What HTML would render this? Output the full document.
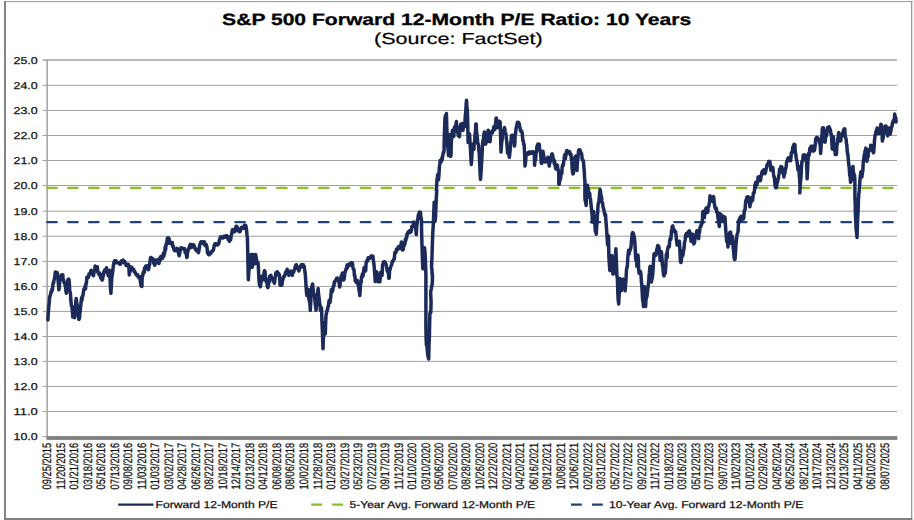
<!DOCTYPE html>
<html><head><meta charset="utf-8"><title>S&amp;P 500 Forward 12-Month P/E Ratio</title>
<style>
html,body{margin:0;padding:0;background:#fff;}
body{width:914px;height:520px;overflow:hidden;position:relative;font-family:"Liberation Sans",sans-serif;}
</style></head><body>
<svg width="914" height="520" viewBox="0 0 914 520" text-rendering="geometricPrecision" style="position:absolute;left:0;top:0;font-family:'Liberation Sans',sans-serif">
<rect x="0" y="0" width="914" height="520" fill="#ffffff"/>
<rect x="4" y="1" width="908.3" height="1.1" fill="#a0a0a0"/>
<rect x="911" y="1" width="1.3" height="519" fill="#9a9a9a"/>
<rect x="4" y="1" width="2" height="519" fill="#848484"/>
<rect x="4" y="518" width="908.3" height="2" fill="#808080"/>
<line x1="42.6" y1="60.00" x2="897.0" y2="60.00" stroke="#a0a0a0" stroke-width="1.7"/>
<text x="37.7" y="64" font-size="10" text-anchor="end" fill="#111" stroke="#111" stroke-width="0.25" textLength="24.2" lengthAdjust="spacingAndGlyphs">25.0</text>
<line x1="42.6" y1="85.30" x2="897.0" y2="85.30" stroke="#a0a0a0" stroke-width="1.0"/>
<text x="37.7" y="89" font-size="10" text-anchor="end" fill="#111" stroke="#111" stroke-width="0.25" textLength="24.2" lengthAdjust="spacingAndGlyphs">24.0</text>
<line x1="42.6" y1="110.50" x2="897.0" y2="110.50" stroke="#a0a0a0" stroke-width="1.0"/>
<text x="37.7" y="114" font-size="10" text-anchor="end" fill="#111" stroke="#111" stroke-width="0.25" textLength="24.2" lengthAdjust="spacingAndGlyphs">23.0</text>
<line x1="42.6" y1="135.50" x2="897.0" y2="135.50" stroke="#a0a0a0" stroke-width="1.0"/>
<text x="37.7" y="139" font-size="10" text-anchor="end" fill="#111" stroke="#111" stroke-width="0.25" textLength="24.2" lengthAdjust="spacingAndGlyphs">22.0</text>
<line x1="42.6" y1="160.50" x2="897.0" y2="160.50" stroke="#a0a0a0" stroke-width="1.0"/>
<text x="37.7" y="164" font-size="10" text-anchor="end" fill="#111" stroke="#111" stroke-width="0.25" textLength="24.2" lengthAdjust="spacingAndGlyphs">21.0</text>
<line x1="42.6" y1="185.50" x2="897.0" y2="185.50" stroke="#a0a0a0" stroke-width="1.0"/>
<text x="37.7" y="189" font-size="10" text-anchor="end" fill="#111" stroke="#111" stroke-width="0.25" textLength="24.2" lengthAdjust="spacingAndGlyphs">20.0</text>
<line x1="42.6" y1="211.20" x2="897.0" y2="211.20" stroke="#a0a0a0" stroke-width="1.0"/>
<text x="37.7" y="215" font-size="10" text-anchor="end" fill="#111" stroke="#111" stroke-width="0.25" textLength="24.2" lengthAdjust="spacingAndGlyphs">19.0</text>
<line x1="42.6" y1="236.20" x2="897.0" y2="236.20" stroke="#a0a0a0" stroke-width="1.0"/>
<text x="37.7" y="240" font-size="10" text-anchor="end" fill="#111" stroke="#111" stroke-width="0.25" textLength="24.2" lengthAdjust="spacingAndGlyphs">18.0</text>
<line x1="42.6" y1="261.40" x2="897.0" y2="261.40" stroke="#a0a0a0" stroke-width="1.0"/>
<text x="37.7" y="265" font-size="10" text-anchor="end" fill="#111" stroke="#111" stroke-width="0.25" textLength="24.2" lengthAdjust="spacingAndGlyphs">17.0</text>
<line x1="42.6" y1="286.40" x2="897.0" y2="286.40" stroke="#a0a0a0" stroke-width="1.0"/>
<text x="37.7" y="290" font-size="10" text-anchor="end" fill="#111" stroke="#111" stroke-width="0.25" textLength="24.2" lengthAdjust="spacingAndGlyphs">16.0</text>
<line x1="42.6" y1="311.40" x2="897.0" y2="311.40" stroke="#a0a0a0" stroke-width="1.0"/>
<text x="37.7" y="315" font-size="10" text-anchor="end" fill="#111" stroke="#111" stroke-width="0.25" textLength="24.2" lengthAdjust="spacingAndGlyphs">15.0</text>
<line x1="42.6" y1="336.50" x2="897.0" y2="336.50" stroke="#a0a0a0" stroke-width="1.0"/>
<text x="37.7" y="340" font-size="10" text-anchor="end" fill="#111" stroke="#111" stroke-width="0.25" textLength="24.2" lengthAdjust="spacingAndGlyphs">14.0</text>
<line x1="42.6" y1="361.40" x2="897.0" y2="361.40" stroke="#a0a0a0" stroke-width="1.0"/>
<text x="37.7" y="365" font-size="10" text-anchor="end" fill="#111" stroke="#111" stroke-width="0.25" textLength="24.2" lengthAdjust="spacingAndGlyphs">13.0</text>
<line x1="42.6" y1="386.40" x2="897.0" y2="386.40" stroke="#a0a0a0" stroke-width="1.0"/>
<text x="37.7" y="390" font-size="10" text-anchor="end" fill="#111" stroke="#111" stroke-width="0.25" textLength="24.2" lengthAdjust="spacingAndGlyphs">12.0</text>
<line x1="42.6" y1="411.50" x2="897.0" y2="411.50" stroke="#a0a0a0" stroke-width="1.0"/>
<text x="37.7" y="415" font-size="10" text-anchor="end" fill="#111" stroke="#111" stroke-width="0.25" textLength="24.2" lengthAdjust="spacingAndGlyphs">11.0</text>
<line x1="42.6" y1="436.60" x2="897.0" y2="436.60" stroke="#a0a0a0" stroke-width="1.0"/>
<text x="37.7" y="440" font-size="10" text-anchor="end" fill="#111" stroke="#111" stroke-width="0.25" textLength="24.2" lengthAdjust="spacingAndGlyphs">10.0</text>
<line x1="47.15" y1="59.2" x2="47.15" y2="438" stroke="#a6a6a6" stroke-width="1.6"/>
<rect x="46.5" y="436.3" width="850.9" height="3.6" fill="#808080"/>
<line x1="47.3" y1="187.85" x2="897.0" y2="187.85" stroke="#84c225" stroke-width="2.4" stroke-dasharray="9.4 11.5" stroke-linecap="round" stroke-dashoffset="0"/>
<line x1="47.3" y1="222.1" x2="897.0" y2="222.1" stroke="#1f447c" stroke-width="2.4" stroke-dasharray="9.4 11.5" stroke-linecap="round" stroke-dashoffset="0"/>
<polyline points="47.9,319.9 48.3,312.5 48.8,306.3 49.2,303.0 49.6,297.5 50.1,295.7 50.5,294.2 50.9,292.1 51.4,292.3 51.8,289.6 52.3,290.3 52.7,286.6 53.1,283.5 53.1,282.8 53.6,283.0 54.0,280.3 54.4,279.1 54.8,277.2 55.3,272.1 55.7,275.6 56.1,272.3 56.5,274.7 56.8,276.0 57.2,272.5 57.5,277.5 57.9,277.3 58.2,281.9 58.6,285.8 58.9,289.8 59.3,286.3 59.7,281.5 60.1,277.5 60.6,277.7 61.0,275.2 61.4,276.9 61.9,276.6 62.3,274.7 62.8,274.9 63.2,280.3 63.6,280.0 64.1,283.0 64.5,282.8 64.9,284.1 65.4,286.5 65.8,289.9 66.3,293.3 66.6,290.0 67.0,288.5 67.3,284.6 67.7,281.0 68.1,279.4 68.5,279.1 68.9,279.3 69.3,282.5 69.7,290.6 70.1,292.3 70.5,294.0 70.8,299.8 71.2,303.7 71.5,306.3 71.9,306.1 72.4,311.6 72.8,317.0 73.3,316.8 73.7,316.6 74.1,316.6 74.5,317.6 74.9,312.6 75.4,308.0 75.8,301.4 76.2,298.4 76.6,302.1 76.9,303.5 77.3,306.3 77.7,306.3 78.1,314.6 78.5,317.6 78.9,319.4 79.2,319.1 79.6,317.7 79.9,313.0 80.3,309.8 80.7,306.1 81.1,301.9 81.6,297.5 82.0,300.2 82.5,295.9 82.9,295.8 83.3,293.0 83.8,289.5 84.2,288.6 84.6,288.8 85.1,286.3 85.5,289.0 86.0,283.3 86.4,283.5 86.8,277.3 87.3,277.5 87.7,277.5 88.1,277.7 88.6,277.0 89.0,273.8 89.5,273.8 89.9,274.0 90.3,273.8 90.8,270.9 91.2,270.3 91.6,270.5 92.1,273.1 92.5,274.5 93.0,274.6 93.4,275.8 93.8,273.6 94.3,271.4 94.7,270.2 95.1,266.1 95.6,267.0 96.0,267.1 96.5,267.2 96.9,267.0 97.3,266.8 97.8,272.1 98.2,273.1 98.6,273.1 99.1,274.6 99.5,272.9 100.0,274.1 100.4,275.8 100.8,278.1 101.3,275.6 101.7,278.8 102.1,280.1 102.6,279.3 103.0,274.0 103.5,275.7 103.9,271.4 104.3,271.6 104.8,269.9 105.2,270.4 105.6,270.5 106.1,268.7 106.5,267.9 107.0,272.4 107.4,270.4 107.8,272.9 108.3,275.8 108.6,276.0 109.0,273.2 109.3,270.3 109.7,270.5 110.1,280.2 110.5,288.9 110.9,293.3 111.3,286.5 111.7,278.6 112.1,275.8 112.6,272.2 113.0,268.9 113.4,265.3 113.9,262.6 114.3,262.8 114.6,260.7 115.0,262.8 115.4,260.7 115.8,260.7 116.1,260.9 116.6,262.3 117.0,262.8 117.5,262.8 117.9,262.7 118.3,262.6 118.8,262.6 119.1,263.1 119.5,263.8 119.8,263.9 120.2,264.4 120.6,263.4 121.0,262.3 121.4,260.9 121.8,260.7 122.3,260.9 122.7,260.6 123.2,260.0 123.6,262.8 124.0,261.9 124.5,261.3 124.9,262.6 125.3,262.7 125.8,263.9 126.2,265.5 126.7,265.3 127.1,264.5 127.5,265.5 128.0,265.5 128.4,264.4 128.8,266.2 129.3,274.9 129.7,271.4 130.2,271.3 130.6,269.5 131.0,267.0 131.5,267.7 131.9,267.4 132.3,269.0 132.8,268.8 133.2,269.8 133.7,269.4 134.1,271.6 134.5,271.4 135.0,272.7 135.4,272.5 135.8,273.9 136.3,274.9 136.7,274.9 137.2,275.6 137.6,274.7 138.0,276.6 138.5,276.4 138.9,277.7 139.3,276.4 139.8,277.5 140.2,279.6 140.7,283.8 141.1,285.8 141.5,286.3 141.9,286.5 142.2,276.4 142.6,276.3 142.9,274.0 143.4,272.0 143.8,272.9 144.2,272.7 144.6,267.7 145.0,267.9 145.5,268.1 145.9,265.9 146.3,268.1 146.8,266.1 147.2,265.9 147.7,268.2 148.1,269.8 148.5,269.6 149.0,267.0 149.4,265.0 149.8,263.4 150.2,260.0 150.6,257.4 151.0,257.6 151.4,259.3 151.8,259.3 152.2,258.2 152.5,259.3 152.9,259.1 153.3,259.1 153.8,263.4 154.2,263.4 154.7,265.3 155.1,264.1 155.5,263.3 156.0,261.5 156.4,260.0 156.8,261.2 157.3,259.8 157.7,260.3 158.2,262.9 158.6,262.0 159.0,263.5 159.5,260.4 159.9,258.0 160.4,260.0 160.8,256.5 161.2,258.5 161.7,258.5 162.1,256.3 162.5,258.3 163.0,256.9 163.4,253.1 163.9,256.0 164.3,253.0 164.7,253.2 165.2,246.7 165.6,249.9 166.0,244.3 166.5,244.5 166.9,241.8 167.4,237.9 167.8,243.3 168.2,238.9 168.7,238.1 169.1,238.9 169.5,242.3 169.9,243.4 170.3,243.6 170.6,243.6 171.0,242.3 171.4,243.6 171.8,243.6 172.2,242.5 172.6,246.2 173.0,245.8 173.5,246.8 173.9,249.5 174.4,250.6 174.8,250.1 175.2,250.3 175.7,250.4 176.1,250.6 176.5,249.1 177.0,248.4 177.4,248.6 177.9,250.0 178.3,250.5 178.7,254.6 179.2,255.6 179.6,253.9 180.0,251.2 180.5,249.7 180.9,247.8 181.4,248.7 181.8,248.1 182.2,248.8 182.7,248.1 183.1,248.8 183.5,248.8 184.0,248.8 184.4,248.6 184.8,249.1 185.2,252.8 185.6,250.3 185.9,252.9 186.3,253.1 186.7,257.4 187.1,257.0 187.6,251.7 188.0,251.5 188.4,249.5 188.9,248.2 189.3,247.4 189.7,245.5 190.1,245.6 190.5,244.3 190.3,247.6 190.0,247.4 190.4,247.0 190.9,247.3 191.3,247.5 191.8,245.3 192.2,244.6 192.6,244.8 193.1,244.8 193.5,247.0 193.9,244.9 194.4,246.5 194.8,248.5 195.3,248.3 195.6,249.7 196.0,249.4 196.4,250.8 196.8,250.6 197.2,249.6 197.6,249.7 198.0,251.4 198.4,252.6 198.8,251.5 199.3,247.6 199.7,245.0 200.2,243.9 200.6,242.6 201.0,241.9 201.4,242.7 201.8,241.9 202.3,242.1 202.7,243.1 203.1,241.9 203.6,243.9 204.0,243.0 204.4,241.9 204.9,244.8 205.3,245.8 205.8,244.8 206.2,244.6 206.6,245.6 207.1,248.0 207.5,252.6 207.9,253.4 208.2,253.0 208.6,254.6 208.9,254.4 209.3,254.6 209.7,254.0 210.2,253.2 210.6,253.7 211.0,251.8 211.4,252.0 211.9,251.8 212.3,250.7 212.8,250.9 213.2,250.4 213.6,249.3 214.1,245.9 214.5,244.8 214.9,243.8 215.4,245.0 215.8,243.7 216.3,243.9 216.7,244.8 217.1,245.0 217.6,243.7 218.0,244.8 218.4,244.0 218.8,243.8 219.3,240.4 219.7,239.7 220.1,237.8 220.5,238.0 220.8,236.7 221.2,237.0 221.5,236.9 221.9,237.4 222.4,238.0 222.8,237.5 223.3,237.8 223.7,237.2 224.1,236.3 224.6,236.2 225.0,236.0 225.4,237.1 225.9,236.4 226.3,235.8 226.8,235.8 227.2,237.1 227.6,236.9 228.1,239.4 228.5,239.9 228.9,236.9 229.4,241.3 229.8,240.8 230.3,239.3 230.7,239.6 231.1,236.0 231.5,234.7 232.0,231.8 232.4,229.9 232.7,231.2 233.1,229.7 233.4,231.8 233.8,231.6 234.1,231.5 234.5,229.2 234.8,231.8 235.2,229.0 235.6,229.2 236.0,226.2 236.5,226.3 236.9,226.4 237.3,228.0 237.7,229.4 238.1,230.8 238.6,230.7 239.0,230.6 239.5,231.8 239.9,231.6 240.3,231.2 240.8,228.6 241.2,227.4 241.6,227.3 242.1,228.3 242.5,228.3 243.0,228.3 243.4,228.1 243.8,228.3 244.3,225.3 244.7,226.7 245.1,225.5 245.6,225.3 246.0,226.2 246.4,229.0 246.7,231.8 247.1,236.0 247.4,237.8 247.8,255.3 248.0,265.9 248.3,279.8 248.7,273.7 249.1,269.1 249.5,262.3 250.0,261.1 250.4,259.7 250.8,256.8 251.3,254.4 251.7,260.2 252.1,267.5 252.6,264.9 253.0,258.9 253.4,254.4 253.7,255.8 254.1,259.4 254.4,264.0 254.8,260.8 255.2,257.4 255.6,254.4 256.1,257.4 256.5,259.6 256.9,262.3 257.2,263.5 257.6,263.7 257.9,262.1 258.3,265.8 258.7,274.6 259.1,281.5 259.6,285.6 260.0,286.0 260.4,286.8 260.7,283.7 261.1,282.5 261.4,276.8 261.8,276.3 262.1,276.1 262.5,278.2 262.8,276.8 263.2,279.8 263.6,279.2 264.0,273.0 264.4,270.8 264.7,271.0 265.1,271.7 265.4,279.2 265.8,278.2 266.1,281.5 266.6,281.3 267.0,283.2 267.5,287.1 267.9,287.6 268.3,285.7 268.8,282.3 269.2,281.8 269.6,276.3 270.1,276.5 270.5,275.6 270.9,275.4 271.3,277.1 271.8,278.2 272.2,278.2 272.6,278.0 273.1,281.1 273.5,278.8 273.9,281.7 274.4,283.3 274.7,281.7 275.1,277.6 275.4,276.9 275.8,272.8 276.2,273.0 276.7,273.0 277.1,271.8 277.5,271.9 278.0,274.7 278.4,274.7 278.8,273.6 279.3,274.5 279.7,278.2 280.1,285.2 280.5,285.0 280.9,284.8 281.2,285.2 281.6,285.2 281.9,285.0 282.3,282.8 282.8,278.6 283.2,278.8 283.7,276.3 284.1,276.0 284.5,276.5 285.0,275.0 285.4,272.8 285.8,271.9 286.3,272.5 286.7,271.1 287.2,269.3 287.6,271.0 288.0,272.4 288.5,273.7 288.9,275.4 289.3,274.8 289.8,272.5 290.2,271.7 290.7,271.0 291.1,272.1 291.5,271.5 292.0,273.8 292.4,275.4 292.8,271.8 293.3,272.0 293.7,272.1 294.2,270.1 294.6,269.5 295.0,267.5 295.5,265.9 295.9,264.9 296.3,264.7 296.8,267.7 297.2,267.5 297.7,267.5 298.1,269.4 298.5,269.3 298.9,271.0 299.3,269.5 299.8,266.8 300.2,267.7 300.6,265.8 301.0,266.0 301.3,264.7 301.7,265.0 302.0,264.9 302.5,266.7 302.9,264.7 303.3,264.7 303.8,266.6 304.2,266.4 304.6,269.2 305.0,272.6 305.4,275.2 305.9,284.0 306.3,289.8 306.8,295.4 307.1,294.4 307.5,293.7 307.8,292.3 308.2,289.3 308.6,296.4 309.0,299.4 309.4,300.6 309.8,302.6 310.3,310.3 310.7,302.7 311.1,295.1 311.5,291.0 311.8,286.3 312.2,286.2 312.5,284.0 312.9,287.5 313.4,292.1 313.8,294.5 314.2,294.3 314.6,296.5 315.0,301.5 315.3,304.4 315.7,306.9 316.0,310.3 316.4,306.4 316.9,303.7 317.3,300.6 317.7,292.8 318.1,288.4 318.5,294.0 319.0,297.3 319.4,300.6 319.7,303.7 320.1,305.6 320.4,310.3 320.9,308.6 321.3,307.6 321.6,309.1 322.0,322.5 322.3,329.1 322.7,340.1 323.0,348.8 323.5,336.7 323.9,331.3 324.4,327.3 324.8,322.5 325.1,328.5 325.3,333.9 325.7,321.7 326.0,315.5 326.5,313.0 326.9,310.9 327.3,310.6 327.8,307.6 328.2,307.2 328.6,304.1 329.1,300.5 329.5,300.6 329.8,301.3 330.0,302.6 330.4,299.2 330.7,297.7 331.1,293.4 331.4,289.5 331.8,289.3 332.2,289.3 332.6,291.3 333.0,288.7 333.4,286.1 333.9,286.0 334.2,282.3 334.6,283.1 334.9,281.0 335.3,280.8 335.7,280.3 336.1,280.2 336.6,278.2 337.0,278.1 337.4,280.1 337.9,278.4 338.3,280.1 338.8,279.9 339.2,283.6 339.6,286.9 340.0,286.1 340.4,278.8 340.9,279.0 341.2,275.9 341.6,276.5 341.9,275.7 342.3,272.9 342.6,279.8 343.0,277.1 343.3,280.1 343.7,279.9 344.1,279.0 344.5,276.7 344.9,272.0 345.3,271.8 345.8,269.5 346.2,269.6 346.6,267.6 347.1,265.0 347.5,267.8 347.9,264.8 348.4,265.0 348.8,265.2 349.1,265.2 349.5,263.9 349.9,264.1 350.3,265.2 350.7,263.6 351.1,263.5 351.5,262.7 352.0,263.6 352.4,262.9 352.8,266.3 353.2,268.8 353.6,269.4 354.0,269.7 354.4,275.7 354.9,275.5 355.2,280.9 355.6,279.1 355.9,281.4 356.3,282.5 356.6,281.1 357.0,282.7 357.3,280.6 357.7,280.8 358.1,285.2 358.5,285.5 358.9,289.5 359.3,291.1 359.8,295.6 360.2,290.7 360.6,282.5 361.1,282.7 361.5,277.3 361.9,276.4 362.4,274.0 362.8,276.4 363.3,273.8 363.7,270.6 364.1,267.6 364.5,269.5 365.0,271.3 365.4,271.1 365.7,270.4 366.1,263.6 366.4,261.5 366.8,261.7 367.3,260.1 367.7,261.1 368.1,257.8 368.5,258.0 368.9,257.8 369.4,257.5 369.8,258.2 370.2,258.2 370.6,257.7 371.0,256.1 371.4,256.1 371.8,256.1 372.1,257.9 372.5,256.1 372.9,256.3 373.3,259.6 373.8,263.3 374.2,266.9 374.6,272.0 374.9,276.6 375.2,281.6 375.6,276.8 376.0,276.9 376.5,271.8 376.9,272.0 377.3,275.1 377.7,279.1 378.1,281.6 378.6,281.8 379.0,281.4 379.5,281.4 379.9,281.6 380.3,277.2 380.8,272.0 381.2,272.1 381.6,275.7 382.0,275.5 382.3,271.9 382.5,265.0 383.0,264.0 383.4,262.4 383.8,261.7 384.3,261.9 384.7,261.7 385.1,262.2 385.6,264.2 386.0,264.1 386.5,266.8 386.9,268.7 387.3,271.3 387.8,271.1 388.1,271.4 388.5,274.7 388.8,278.3 389.2,278.1 389.6,270.7 390.0,270.0 390.4,267.6 390.8,266.7 391.3,265.4 391.7,264.6 392.1,262.4 392.6,261.0 393.0,261.4 393.5,259.9 393.9,258.9 394.3,259.0 394.8,252.6 395.2,252.6 395.6,252.8 396.1,251.9 396.5,249.1 397.0,249.1 397.4,249.3 397.8,249.5 398.3,246.7 398.7,248.5 399.1,246.6 399.6,248.1 400.0,248.2 400.4,248.4 400.7,247.1 401.1,243.9 401.4,241.9 401.8,242.7 402.2,247.3 402.6,250.1 403.1,249.7 403.5,246.5 404.0,246.0 404.4,244.9 404.8,244.7 405.3,239.5 405.7,241.0 406.1,237.9 406.6,238.1 407.0,234.0 407.5,234.3 407.9,232.6 408.3,231.9 408.8,232.8 409.2,232.0 409.6,230.9 410.1,232.3 410.5,230.7 410.9,232.1 411.2,230.7 411.6,229.2 411.9,226.2 412.3,226.4 412.7,226.6 413.2,226.3 413.6,222.0 414.0,222.2 414.4,224.0 414.7,222.7 415.1,224.0 415.4,223.8 415.9,230.0 416.3,234.6 416.7,226.3 417.1,224.0 417.5,219.4 417.9,219.6 418.2,215.7 418.6,214.3 418.9,214.5 419.3,212.2 419.7,212.2 420.1,213.7 420.5,212.4 420.9,218.7 421.4,218.5 421.6,231.5 421.9,242.5 422.3,256.2 422.8,268.8 423.2,263.2 423.7,247.8 424.1,247.6 424.5,247.8 425.0,252.4 425.4,260.0 425.7,268.2 425.9,274.0 425.9,327.5 426.1,337.5 426.4,345.0 426.8,345.7 427.2,348.3 427.6,353.8 428.0,356.2 428.3,357.8 428.7,359.0 429.0,344.8 429.4,336.3 429.6,324.4 429.9,313.5 430.3,312.4 430.8,312.6 431.1,301.3 430.9,297.9 430.6,292.5 430.9,290.5 431.3,288.8 431.6,286.5 432.0,285.5 432.3,282.6 432.5,275.0 432.2,275.2 431.9,268.9 431.5,267.0 432.0,256.6 432.4,242.5 432.8,232.1 433.3,225.0 433.7,213.8 434.2,202.3 434.6,213.5 435.0,221.5 435.5,217.8 435.9,207.5 436.3,197.9 436.8,190.0 436.5,190.0 436.3,190.3 436.6,186.8 437.0,179.1 437.3,178.5 437.7,174.5 438.1,175.6 438.5,179.8 438.9,175.3 439.4,166.8 439.8,164.0 440.2,160.3 440.6,162.3 441.1,162.0 441.5,160.5 441.9,158.0 442.2,159.8 442.6,156.0 442.9,155.3 443.3,152.2 443.7,152.8 444.1,150.0 444.1,144.3 444.6,127.7 445.0,118.0 445.4,115.4 445.7,115.8 446.1,116.6 446.4,113.6 446.8,126.8 447.3,140.8 447.7,146.4 448.1,149.2 448.5,155.6 448.9,145.8 449.4,134.6 449.8,145.6 450.2,147.7 450.6,156.5 451.0,155.3 451.3,142.3 451.7,137.3 452.1,133.8 452.5,130.3 452.9,132.7 453.4,136.6 453.8,136.4 454.1,131.3 454.5,127.0 454.8,130.5 455.2,126.8 455.6,126.8 456.0,124.6 456.4,121.5 456.8,129.6 457.2,128.9 457.6,132.0 458.0,133.5 458.3,135.7 458.7,135.9 459.0,136.4 459.5,136.6 459.9,127.5 460.3,126.4 460.8,124.1 461.1,123.9 461.5,129.0 461.8,127.9 462.2,130.3 462.6,130.0 463.0,130.3 463.4,123.3 463.8,124.4 464.2,125.0 464.6,126.8 465.0,121.0 465.3,115.6 465.7,112.8 466.1,105.1 466.5,100.2 467.0,107.0 467.4,111.0 467.8,126.8 468.1,142.5 468.5,140.5 468.8,137.8 469.2,138.0 469.5,133.8 470.0,141.9 470.4,147.8 470.8,155.8 471.3,164.4 471.6,160.8 472.0,154.0 472.3,146.8 472.7,144.3 473.1,149.2 473.5,148.8 473.9,149.5 474.3,142.2 474.7,141.4 475.1,133.8 475.5,131.3 475.8,123.9 476.2,124.1 476.6,132.6 477.0,134.8 477.4,139.0 477.8,143.3 478.2,144.1 478.6,146.0 479.0,151.5 479.3,154.3 479.7,163.5 480.1,173.5 480.5,179.3 481.0,172.9 481.4,165.8 481.8,160.0 482.2,152.0 482.6,142.5 483.1,140.1 483.5,138.8 484.0,133.8 484.4,132.0 484.8,136.0 485.2,135.5 485.6,144.3 486.0,141.6 486.3,142.3 486.7,142.0 487.0,137.3 487.4,134.4 487.8,132.4 488.2,130.3 488.6,136.2 488.9,135.3 489.3,140.2 489.6,141.6 490.1,141.7 490.5,135.3 490.9,132.0 491.2,133.1 491.6,131.8 491.9,133.1 492.3,132.9 492.6,131.2 493.0,130.1 493.3,130.8 493.7,126.8 494.1,129.6 494.5,127.0 494.9,129.4 495.3,125.3 495.6,124.8 496.0,118.5 496.3,118.0 496.7,122.3 497.1,125.7 497.5,127.6 497.9,125.5 498.2,125.7 498.6,121.3 498.9,121.5 499.3,122.6 499.7,121.3 500.2,122.4 500.6,135.7 501.0,152.1 501.4,146.3 501.7,142.1 502.1,140.2 502.4,133.8 502.8,132.7 503.3,130.4 503.7,131.3 504.1,132.3 504.5,127.6 504.9,129.2 505.2,131.5 505.6,134.0 505.9,133.8 506.3,139.0 506.7,140.3 507.2,147.8 507.6,153.2 508.0,153.2 508.4,153.0 508.7,152.8 509.1,155.9 509.4,157.4 509.8,153.4 510.2,149.6 510.7,142.5 511.1,140.5 511.5,135.5 511.9,135.3 512.2,135.3 512.6,136.4 512.9,136.4 513.3,141.1 513.7,138.8 514.1,141.4 514.5,146.0 514.9,142.0 515.2,133.9 515.6,133.6 515.9,130.3 516.3,127.0 516.7,126.6 517.1,123.3 517.5,122.2 517.8,122.2 518.2,122.2 518.5,122.4 518.9,123.6 519.2,123.5 519.6,126.4 519.9,127.6 520.4,130.2 520.8,131.3 521.2,131.3 521.7,131.1 522.1,132.6 522.5,136.6 522.9,140.8 523.3,140.6 523.7,144.5 524.1,144.3 524.6,153.6 525.0,166.1 525.4,163.0 525.7,161.2 526.1,154.0 526.4,153.9 526.8,154.1 527.3,153.5 527.7,152.8 528.2,154.0 528.6,154.1 529.0,153.0 529.5,151.9 529.9,153.2 530.4,153.0 530.8,153.2 531.2,153.2 531.7,152.1 532.1,153.2 532.5,151.9 533.0,153.2 533.4,151.9 533.9,153.2 534.3,153.0 534.6,165.3 535.0,160.4 535.3,158.9 535.7,159.9 536.0,153.0 536.4,152.2 536.7,149.2 537.1,145.8 537.4,146.0 537.9,144.1 538.3,145.6 538.8,146.2 539.2,144.3 539.6,147.8 540.0,150.7 540.4,152.1 540.8,155.8 541.2,162.6 541.6,163.5 542.0,159.6 542.3,156.2 542.7,156.2 543.0,151.3 543.4,154.0 543.7,155.9 544.1,157.9 544.4,161.8 544.9,161.2 545.3,162.0 545.7,161.8 546.1,160.7 546.5,160.9 547.0,160.7 547.4,159.4 547.9,157.2 548.3,157.4 548.7,162.8 549.2,166.1 549.6,163.8 550.0,161.8 550.5,161.3 550.9,158.3 551.3,158.5 551.7,154.2 552.1,153.9 552.5,156.1 552.8,155.5 553.2,160.2 553.5,160.0 553.9,159.8 554.2,163.7 554.6,161.2 554.9,163.5 555.4,167.1 555.8,169.0 556.2,168.8 556.6,165.1 557.0,165.5 557.4,165.3 557.7,168.6 558.1,169.4 558.4,170.4 558.8,174.0 558.8,184.1 559.2,184.3 559.7,180.9 560.1,175.5 560.5,179.3 561.0,173.8 561.4,174.0 561.8,173.6 562.2,166.9 562.6,165.3 563.0,164.3 563.3,165.4 563.7,161.6 564.0,160.0 564.5,155.6 564.9,154.6 565.4,158.7 565.8,154.8 566.1,155.0 566.5,150.8 566.8,153.4 567.2,150.4 567.6,152.1 568.0,152.3 568.4,152.1 568.8,151.7 569.2,151.9 569.7,151.8 570.1,154.4 570.5,154.4 571.0,154.2 571.3,159.1 571.5,160.0 571.8,159.8 572.1,168.1 572.5,171.4 572.9,173.9 573.2,171.9 573.5,173.3 573.9,164.6 574.2,160.0 574.5,158.9 574.8,157.1 575.1,157.0 575.5,157.3 575.8,156.1 576.2,156.3 576.6,165.9 577.0,170.4 577.3,163.5 577.7,160.0 578.0,157.2 578.4,152.1 578.7,149.9 579.1,150.4 579.5,149.7 579.8,149.7 580.2,150.5 580.6,153.3 581.0,152.9 581.4,153.1 581.8,155.0 582.2,159.4 582.5,160.1 582.8,160.4 583.1,160.2 583.4,160.9 583.8,165.8 584.1,169.6 584.4,173.9 584.6,178.5 584.9,180.8 584.9,197.5 585.3,201.3 585.7,202.0 586.1,205.4 586.5,195.7 586.8,198.1 587.2,191.0 587.5,185.3 587.9,187.0 588.2,188.1 588.6,191.1 588.9,192.3 589.3,193.1 589.7,193.5 590.1,197.5 590.5,199.4 590.9,203.2 591.4,208.0 591.7,211.3 592.1,214.8 592.4,222.0 592.8,219.9 593.2,212.1 593.6,211.5 594.0,216.5 594.3,216.3 594.7,222.8 595.0,225.5 595.4,231.5 595.8,231.8 596.3,234.3 596.6,227.0 597.0,223.0 597.3,217.5 597.7,211.5 598.1,204.2 598.5,203.2 598.9,201.0 599.3,197.6 599.7,192.4 600.1,189.6 600.5,191.6 600.8,194.7 601.2,196.6 601.5,196.6 601.9,201.0 602.2,202.7 602.6,203.2 602.9,206.3 603.3,208.2 603.8,209.6 604.2,211.5 604.7,214.1 605.1,215.8 605.5,214.4 605.9,220.3 606.3,225.7 606.8,232.5 607.2,238.6 607.6,244.8 608.1,238.3 608.5,236.0 608.9,257.5 609.2,261.8 609.6,267.4 609.9,270.6 610.3,265.3 610.7,265.3 611.1,255.8 611.6,255.6 612.0,264.5 612.5,265.5 612.9,274.1 613.3,273.0 613.8,273.4 614.2,260.8 614.6,261.0 615.0,257.2 615.5,254.0 615.9,248.8 616.2,256.8 616.6,267.5 616.9,275.0 617.4,278.8 617.8,292.5 618.2,300.1 618.7,303.9 619.1,296.3 619.5,287.0 619.9,278.5 620.2,280.3 620.6,286.0 620.9,286.6 621.3,290.8 621.7,287.5 622.1,282.1 622.5,279.4 622.9,279.2 623.2,279.8 623.6,280.5 623.9,280.3 624.3,285.4 624.7,285.3 625.1,290.8 625.6,284.3 626.0,279.3 626.4,271.5 626.7,268.3 627.1,267.2 627.4,265.4 627.8,257.5 628.2,253.8 628.6,250.3 629.1,254.1 629.5,250.5 630.0,250.7 630.4,249.1 630.8,248.0 631.2,244.5 631.6,239.5 632.0,235.8 632.3,233.3 632.7,232.5 633.1,235.9 633.5,233.4 633.9,236.9 634.3,236.7 634.7,241.1 635.1,246.5 635.6,256.9 636.0,260.6 636.4,259.8 636.9,266.3 637.2,260.9 637.6,259.2 637.9,254.9 638.3,259.4 638.7,270.0 639.1,273.3 639.5,272.7 639.8,271.3 640.2,273.5 640.5,271.5 641.0,274.9 641.4,281.3 641.8,285.5 642.2,292.5 642.6,299.5 643.1,302.3 643.5,306.5 644.0,297.2 644.4,286.4 644.8,291.6 645.2,295.8 645.6,306.5 646.0,299.0 646.3,298.5 646.7,297.0 647.0,296.0 647.4,292.5 647.8,289.1 648.2,285.5 648.7,281.5 649.1,275.0 649.5,272.4 649.8,267.4 650.2,266.3 650.6,270.0 651.0,272.1 651.4,282.0 651.8,279.3 652.2,278.4 652.6,275.0 653.0,270.9 653.3,264.2 653.7,258.9 654.0,254.0 654.4,253.5 654.7,255.5 655.1,254.4 655.4,255.5 655.8,255.3 656.2,254.2 656.6,251.1 657.0,248.3 657.4,248.5 657.7,245.4 658.1,245.6 658.5,246.3 658.9,246.8 659.3,250.0 659.7,251.8 660.1,260.4 660.5,260.5 660.9,260.0 661.4,251.8 661.7,255.4 662.1,260.3 662.4,265.2 662.8,266.3 663.2,271.2 663.6,275.3 664.0,275.9 664.4,272.0 664.7,272.3 665.1,273.6 665.4,271.5 665.8,265.9 666.3,254.0 666.6,255.4 667.0,254.4 667.3,257.5 667.2,251.8 667.6,249.7 668.0,247.7 668.5,246.3 668.9,246.5 669.3,246.7 669.7,240.5 670.1,239.5 670.5,237.4 670.8,239.7 671.2,235.6 671.5,230.8 671.9,229.9 672.3,226.2 672.8,225.9 673.1,227.8 673.5,230.1 673.8,230.1 674.2,229.9 674.5,231.8 674.9,231.0 675.2,231.8 675.6,231.6 676.0,234.7 676.4,239.6 676.8,242.1 677.1,245.0 677.5,241.9 677.8,244.0 678.2,244.8 678.6,244.1 679.0,241.2 679.4,241.3 679.8,247.6 680.2,257.0 680.6,262.3 681.0,262.5 681.3,260.2 681.7,257.7 682.0,255.3 682.5,250.5 682.9,255.5 683.3,251.5 683.8,250.0 684.1,247.3 684.5,242.3 684.8,242.0 685.2,239.5 685.6,235.1 686.0,235.6 686.4,233.4 686.8,235.3 687.2,235.2 687.6,236.0 688.1,235.3 688.5,231.6 688.9,235.1 689.4,230.8 689.8,232.4 690.3,233.4 690.7,238.4 691.1,241.3 691.5,238.4 691.8,236.3 692.2,235.5 692.5,234.3 692.9,237.9 693.4,239.0 693.8,243.9 694.1,242.2 694.5,242.9 694.8,240.3 695.2,237.8 695.6,235.7 696.0,234.5 696.5,232.3 696.9,230.8 697.4,232.6 697.8,236.3 698.2,236.5 698.7,238.6 699.1,230.3 699.5,232.5 700.0,227.5 700.4,226.4 700.8,226.6 701.2,224.4 701.6,224.6 702.0,221.7 702.3,222.9 702.7,212.5 703.0,211.5 703.4,211.3 703.7,211.5 704.1,211.3 704.4,217.6 704.9,211.1 705.3,213.6 705.8,209.0 706.2,208.0 706.6,207.8 707.0,207.8 707.4,212.4 707.8,212.2 708.1,207.6 708.5,207.0 708.8,206.3 709.2,203.5 709.6,202.2 710.0,195.8 710.4,197.7 710.7,197.7 711.1,197.3 711.4,197.5 711.9,199.0 712.3,201.2 712.7,201.0 713.1,201.2 713.5,196.6 713.9,198.6 714.2,202.9 714.6,205.1 714.9,207.1 715.4,208.6 715.8,208.7 716.3,208.2 716.7,212.4 717.1,212.7 717.6,212.2 718.0,218.7 718.4,218.5 718.9,223.6 719.3,226.4 719.7,217.5 720.1,213.8 720.5,218.6 720.8,219.2 721.2,214.8 721.5,220.8 721.9,221.0 722.3,219.6 722.8,216.4 723.1,221.0 723.5,216.2 723.8,220.8 724.2,220.8 724.6,219.9 725.0,217.3 725.4,224.1 725.8,230.5 726.3,236.5 726.7,241.5 727.1,241.8 727.6,241.6 728.0,247.0 728.4,241.2 728.7,237.8 729.1,236.6 729.4,234.8 729.8,232.6 730.2,233.8 730.6,232.1 731.1,238.4 731.5,243.5 731.9,240.1 732.4,236.5 732.8,241.2 733.3,248.8 733.7,252.2 734.1,257.5 734.6,259.5 735.0,259.3 735.4,254.0 735.9,245.3 736.3,241.1 736.8,236.5 737.2,234.1 737.6,233.0 738.1,231.2 738.5,222.5 738.9,220.1 739.2,221.8 739.6,221.8 739.9,218.1 740.4,217.1 740.8,218.3 741.2,216.2 741.7,216.4 742.1,219.2 742.5,218.1 743.0,216.2 743.4,219.0 743.8,217.6 744.2,211.2 744.6,210.3 745.1,209.6 745.5,203.3 745.9,200.2 746.2,199.8 746.6,199.3 746.9,197.1 747.4,196.9 747.8,198.1 748.2,196.9 748.7,198.0 749.1,202.4 749.5,203.9 749.9,206.8 750.2,205.0 750.6,197.8 750.9,202.8 751.3,198.0 751.7,199.0 752.1,197.8 752.5,200.6 753.0,196.9 753.4,192.8 753.8,192.6 754.2,192.8 754.6,189.3 755.0,184.5 755.3,188.0 755.7,182.3 756.1,182.8 756.5,185.1 756.9,184.9 757.3,181.9 757.7,181.1 758.1,177.0 758.5,177.1 758.8,176.8 759.2,180.7 759.5,180.5 760.0,180.7 760.4,180.7 760.8,178.4 761.3,175.3 761.7,173.2 762.1,171.6 762.6,171.6 763.0,171.8 763.4,170.0 763.8,169.8 764.3,170.1 764.7,173.7 765.1,173.5 765.6,172.0 766.0,169.2 766.4,167.9 766.9,165.6 767.3,164.4 767.8,163.9 768.2,163.6 768.6,161.6 769.1,164.7 769.5,162.1 769.9,161.4 770.4,165.6 770.8,170.2 771.2,168.8 771.6,170.0 772.0,170.2 772.3,167.2 772.7,167.4 773.1,169.9 773.5,173.9 773.9,177.0 774.3,176.8 774.7,181.7 775.1,185.8 775.5,187.7 775.8,187.7 776.2,187.7 776.5,187.5 776.9,183.4 777.2,180.1 777.6,182.1 777.9,178.8 778.3,179.0 778.7,175.7 779.1,173.5 779.6,168.9 780.0,171.7 780.4,170.0 780.9,166.5 781.3,168.4 781.8,166.8 782.2,169.2 782.6,169.1 783.0,173.5 783.5,173.2 783.9,177.0 784.2,171.4 784.6,174.2 784.9,172.8 785.3,170.0 785.7,167.9 786.1,167.6 786.6,162.2 787.0,161.3 787.4,160.2 787.7,158.8 788.1,159.9 788.4,157.8 788.9,160.6 789.3,158.5 789.7,160.6 790.2,160.4 790.6,160.6 791.0,156.9 791.4,152.5 791.8,152.3 792.3,152.7 792.7,147.5 793.1,146.4 793.6,145.7 794.0,144.4 794.5,146.1 794.9,144.6 795.3,152.4 795.8,154.3 796.2,157.8 796.6,159.9 797.0,161.3 797.3,163.7 797.7,167.5 798.0,170.0 798.5,166.3 798.9,166.5 799.3,175.8 799.7,179.6 800.1,187.5 799.8,192.8 800.2,185.1 800.6,180.6 801.0,177.0 801.5,167.3 801.9,161.3 802.3,161.5 802.8,160.5 803.2,154.9 803.6,155.1 804.1,156.2 804.5,156.2 805.0,154.9 805.4,156.0 805.8,155.8 806.2,159.0 806.6,163.0 806.9,169.5 807.1,178.8 807.6,169.9 808.0,159.5 808.4,157.2 808.7,153.2 809.1,155.4 809.4,153.4 809.8,148.3 810.2,151.9 810.6,148.1 811.1,146.2 811.5,146.2 812.0,146.2 812.4,146.4 812.8,146.3 813.3,151.0 813.7,151.0 814.1,150.8 814.6,149.5 815.0,146.7 815.4,143.8 815.7,139.0 816.1,138.8 816.4,137.6 816.9,137.4 817.3,137.4 817.7,139.6 818.2,139.4 818.6,139.2 819.0,139.6 819.4,142.0 819.8,143.5 820.2,145.1 820.6,153.4 821.1,146.8 821.5,137.6 821.9,135.8 822.4,128.0 822.7,129.3 823.1,127.8 823.4,127.8 823.8,131.5 824.2,137.1 824.6,142.0 825.1,142.2 825.5,138.6 825.9,135.9 826.2,136.1 826.6,135.6 826.9,133.1 827.3,128.9 827.6,127.5 828.0,129.1 828.3,129.1 828.7,127.1 829.1,126.9 829.5,128.0 829.9,129.8 830.3,129.6 830.6,131.7 831.0,134.3 831.3,134.1 831.7,139.2 832.2,149.0 832.6,140.4 833.0,143.7 833.4,136.8 833.8,142.3 834.2,149.3 834.6,150.8 835.0,150.6 835.3,154.5 835.7,154.5 836.0,154.3 836.4,154.5 836.8,146.8 837.3,143.8 837.6,141.5 838.0,137.7 838.3,137.4 838.7,132.4 839.1,136.9 839.5,137.0 840.0,136.0 840.4,141.1 840.8,140.7 841.2,136.0 841.6,135.0 842.0,135.2 842.3,133.8 842.7,135.2 843.0,131.5 843.5,131.7 843.9,129.2 844.3,130.3 844.8,128.9 845.2,137.1 845.7,137.6 846.1,139.1 846.5,143.8 846.9,145.5 847.2,151.1 847.6,154.1 847.9,154.3 848.4,160.7 848.8,164.8 849.2,167.1 849.7,175.3 850.1,176.0 850.6,182.3 851.0,181.1 851.4,179.6 851.8,177.0 852.2,177.2 852.6,168.1 853.0,166.5 853.4,172.5 853.9,173.5 854.2,178.1 854.6,175.7 854.9,182.3 854.9,196.3 855.2,203.2 855.4,213.8 855.8,222.0 856.1,229.5 856.6,232.4 857.0,237.4 857.3,229.6 857.5,222.5 858.0,213.0 858.4,201.5 858.8,193.9 859.2,190.9 859.7,184.0 860.1,178.5 860.5,174.7 860.9,171.8 861.2,174.7 861.6,174.0 861.9,177.0 862.3,173.0 862.8,171.2 863.2,163.0 863.6,160.2 864.0,156.9 864.4,154.3 864.7,154.4 865.1,150.4 865.4,152.1 865.8,148.1 866.2,149.7 866.6,158.3 867.0,161.3 867.4,157.7 867.7,154.5 868.1,156.8 868.4,150.8 868.8,149.7 869.2,151.0 869.6,149.9 870.0,150.1 870.3,150.1 870.7,145.3 871.0,145.5 871.4,146.6 871.7,146.6 872.1,145.9 872.4,146.4 872.8,148.1 873.3,152.7 873.7,152.5 874.1,146.8 874.5,140.3 874.9,137.1 875.2,134.5 875.6,134.7 875.9,131.5 876.3,131.1 876.8,129.6 877.2,128.0 877.6,133.5 878.0,130.8 878.4,133.3 878.7,133.2 879.1,133.5 879.4,128.7 879.8,128.9 880.1,129.1 880.5,129.1 880.8,124.3 881.2,124.5 881.6,128.0 882.0,133.7 882.4,141.1 882.8,136.0 883.1,138.5 883.5,133.9 883.8,134.1 884.2,132.4 884.6,131.5 885.0,126.3 885.4,126.1 885.7,126.6 886.1,126.1 886.4,128.0 886.9,131.9 887.3,132.1 887.7,135.9 888.1,132.8 888.5,130.7 888.9,128.0 889.2,130.7 889.6,130.3 889.9,132.6 890.3,134.1 890.6,131.2 891.0,130.9 891.3,126.9 891.7,127.1 892.1,125.8 892.5,122.6 892.9,122.8 893.4,120.4 893.8,120.1 894.2,120.3 894.7,114.0 895.1,115.9 895.5,117.5 895.8,117.9 896.1,121.9" fill="none" stroke="#1b2a58" stroke-width="3.5" stroke-linejoin="round" stroke-linecap="round"/>
<text transform="translate(51.30,489.4) rotate(-90)" font-size="12.3" fill="#111" stroke="#111" stroke-width="0.25" textLength="46.6" lengthAdjust="spacingAndGlyphs">09/25/2015</text>
<text transform="translate(64.81,489.4) rotate(-90)" font-size="12.3" fill="#111" stroke="#111" stroke-width="0.25" textLength="46.6" lengthAdjust="spacingAndGlyphs">11/20/2015</text>
<text transform="translate(78.32,489.4) rotate(-90)" font-size="12.3" fill="#111" stroke="#111" stroke-width="0.25" textLength="46.6" lengthAdjust="spacingAndGlyphs">01/21/2016</text>
<text transform="translate(91.83,489.4) rotate(-90)" font-size="12.3" fill="#111" stroke="#111" stroke-width="0.25" textLength="46.6" lengthAdjust="spacingAndGlyphs">03/18/2016</text>
<text transform="translate(105.34,489.4) rotate(-90)" font-size="12.3" fill="#111" stroke="#111" stroke-width="0.25" textLength="46.6" lengthAdjust="spacingAndGlyphs">05/16/2016</text>
<text transform="translate(118.85,489.4) rotate(-90)" font-size="12.3" fill="#111" stroke="#111" stroke-width="0.25" textLength="46.6" lengthAdjust="spacingAndGlyphs">07/13/2016</text>
<text transform="translate(132.36,489.4) rotate(-90)" font-size="12.3" fill="#111" stroke="#111" stroke-width="0.25" textLength="46.6" lengthAdjust="spacingAndGlyphs">09/08/2016</text>
<text transform="translate(145.87,489.4) rotate(-90)" font-size="12.3" fill="#111" stroke="#111" stroke-width="0.25" textLength="46.6" lengthAdjust="spacingAndGlyphs">11/03/2016</text>
<text transform="translate(159.38,489.4) rotate(-90)" font-size="12.3" fill="#111" stroke="#111" stroke-width="0.25" textLength="46.6" lengthAdjust="spacingAndGlyphs">01/03/2017</text>
<text transform="translate(172.89,489.4) rotate(-90)" font-size="12.3" fill="#111" stroke="#111" stroke-width="0.25" textLength="46.6" lengthAdjust="spacingAndGlyphs">03/02/2017</text>
<text transform="translate(186.40,489.4) rotate(-90)" font-size="12.3" fill="#111" stroke="#111" stroke-width="0.25" textLength="46.6" lengthAdjust="spacingAndGlyphs">04/28/2017</text>
<text transform="translate(199.91,489.4) rotate(-90)" font-size="12.3" fill="#111" stroke="#111" stroke-width="0.25" textLength="46.6" lengthAdjust="spacingAndGlyphs">06/26/2017</text>
<text transform="translate(213.42,489.4) rotate(-90)" font-size="12.3" fill="#111" stroke="#111" stroke-width="0.25" textLength="46.6" lengthAdjust="spacingAndGlyphs">08/22/2017</text>
<text transform="translate(226.93,489.4) rotate(-90)" font-size="12.3" fill="#111" stroke="#111" stroke-width="0.25" textLength="46.6" lengthAdjust="spacingAndGlyphs">10/18/2017</text>
<text transform="translate(240.44,489.4) rotate(-90)" font-size="12.3" fill="#111" stroke="#111" stroke-width="0.25" textLength="46.6" lengthAdjust="spacingAndGlyphs">12/14/2017</text>
<text transform="translate(253.95,489.4) rotate(-90)" font-size="12.3" fill="#111" stroke="#111" stroke-width="0.25" textLength="46.6" lengthAdjust="spacingAndGlyphs">02/13/2018</text>
<text transform="translate(267.46,489.4) rotate(-90)" font-size="12.3" fill="#111" stroke="#111" stroke-width="0.25" textLength="46.6" lengthAdjust="spacingAndGlyphs">04/12/2018</text>
<text transform="translate(280.97,489.4) rotate(-90)" font-size="12.3" fill="#111" stroke="#111" stroke-width="0.25" textLength="46.6" lengthAdjust="spacingAndGlyphs">06/08/2018</text>
<text transform="translate(294.48,489.4) rotate(-90)" font-size="12.3" fill="#111" stroke="#111" stroke-width="0.25" textLength="46.6" lengthAdjust="spacingAndGlyphs">08/06/2018</text>
<text transform="translate(307.99,489.4) rotate(-90)" font-size="12.3" fill="#111" stroke="#111" stroke-width="0.25" textLength="46.6" lengthAdjust="spacingAndGlyphs">10/02/2018</text>
<text transform="translate(321.50,489.4) rotate(-90)" font-size="12.3" fill="#111" stroke="#111" stroke-width="0.25" textLength="46.6" lengthAdjust="spacingAndGlyphs">11/28/2018</text>
<text transform="translate(335.01,489.4) rotate(-90)" font-size="12.3" fill="#111" stroke="#111" stroke-width="0.25" textLength="46.6" lengthAdjust="spacingAndGlyphs">01/29/2019</text>
<text transform="translate(348.52,489.4) rotate(-90)" font-size="12.3" fill="#111" stroke="#111" stroke-width="0.25" textLength="46.6" lengthAdjust="spacingAndGlyphs">03/27/2019</text>
<text transform="translate(362.03,489.4) rotate(-90)" font-size="12.3" fill="#111" stroke="#111" stroke-width="0.25" textLength="46.6" lengthAdjust="spacingAndGlyphs">05/23/2019</text>
<text transform="translate(375.54,489.4) rotate(-90)" font-size="12.3" fill="#111" stroke="#111" stroke-width="0.25" textLength="46.6" lengthAdjust="spacingAndGlyphs">07/22/2019</text>
<text transform="translate(389.05,489.4) rotate(-90)" font-size="12.3" fill="#111" stroke="#111" stroke-width="0.25" textLength="46.6" lengthAdjust="spacingAndGlyphs">09/17/2019</text>
<text transform="translate(402.56,489.4) rotate(-90)" font-size="12.3" fill="#111" stroke="#111" stroke-width="0.25" textLength="46.6" lengthAdjust="spacingAndGlyphs">11/12/2019</text>
<text transform="translate(416.07,489.4) rotate(-90)" font-size="12.3" fill="#111" stroke="#111" stroke-width="0.25" textLength="46.6" lengthAdjust="spacingAndGlyphs">01/10/2020</text>
<text transform="translate(429.58,489.4) rotate(-90)" font-size="12.3" fill="#111" stroke="#111" stroke-width="0.25" textLength="46.6" lengthAdjust="spacingAndGlyphs">03/10/2020</text>
<text transform="translate(443.09,489.4) rotate(-90)" font-size="12.3" fill="#111" stroke="#111" stroke-width="0.25" textLength="46.6" lengthAdjust="spacingAndGlyphs">05/06/2020</text>
<text transform="translate(456.60,489.4) rotate(-90)" font-size="12.3" fill="#111" stroke="#111" stroke-width="0.25" textLength="46.6" lengthAdjust="spacingAndGlyphs">07/02/2020</text>
<text transform="translate(470.11,489.4) rotate(-90)" font-size="12.3" fill="#111" stroke="#111" stroke-width="0.25" textLength="46.6" lengthAdjust="spacingAndGlyphs">08/28/2020</text>
<text transform="translate(483.62,489.4) rotate(-90)" font-size="12.3" fill="#111" stroke="#111" stroke-width="0.25" textLength="46.6" lengthAdjust="spacingAndGlyphs">10/26/2020</text>
<text transform="translate(497.13,489.4) rotate(-90)" font-size="12.3" fill="#111" stroke="#111" stroke-width="0.25" textLength="46.6" lengthAdjust="spacingAndGlyphs">12/22/2020</text>
<text transform="translate(510.64,489.4) rotate(-90)" font-size="12.3" fill="#111" stroke="#111" stroke-width="0.25" textLength="46.6" lengthAdjust="spacingAndGlyphs">02/22/2021</text>
<text transform="translate(524.15,489.4) rotate(-90)" font-size="12.3" fill="#111" stroke="#111" stroke-width="0.25" textLength="46.6" lengthAdjust="spacingAndGlyphs">04/20/2021</text>
<text transform="translate(537.66,489.4) rotate(-90)" font-size="12.3" fill="#111" stroke="#111" stroke-width="0.25" textLength="46.6" lengthAdjust="spacingAndGlyphs">06/16/2021</text>
<text transform="translate(551.17,489.4) rotate(-90)" font-size="12.3" fill="#111" stroke="#111" stroke-width="0.25" textLength="46.6" lengthAdjust="spacingAndGlyphs">08/12/2021</text>
<text transform="translate(564.68,489.4) rotate(-90)" font-size="12.3" fill="#111" stroke="#111" stroke-width="0.25" textLength="46.6" lengthAdjust="spacingAndGlyphs">10/08/2021</text>
<text transform="translate(578.19,489.4) rotate(-90)" font-size="12.3" fill="#111" stroke="#111" stroke-width="0.25" textLength="46.6" lengthAdjust="spacingAndGlyphs">12/06/2021</text>
<text transform="translate(591.70,489.4) rotate(-90)" font-size="12.3" fill="#111" stroke="#111" stroke-width="0.25" textLength="46.6" lengthAdjust="spacingAndGlyphs">02/02/2022</text>
<text transform="translate(605.21,489.4) rotate(-90)" font-size="12.3" fill="#111" stroke="#111" stroke-width="0.25" textLength="46.6" lengthAdjust="spacingAndGlyphs">03/31/2022</text>
<text transform="translate(618.72,489.4) rotate(-90)" font-size="12.3" fill="#111" stroke="#111" stroke-width="0.25" textLength="46.6" lengthAdjust="spacingAndGlyphs">05/27/2022</text>
<text transform="translate(632.23,489.4) rotate(-90)" font-size="12.3" fill="#111" stroke="#111" stroke-width="0.25" textLength="46.6" lengthAdjust="spacingAndGlyphs">07/27/2022</text>
<text transform="translate(645.74,489.4) rotate(-90)" font-size="12.3" fill="#111" stroke="#111" stroke-width="0.25" textLength="46.6" lengthAdjust="spacingAndGlyphs">09/22/2022</text>
<text transform="translate(659.25,489.4) rotate(-90)" font-size="12.3" fill="#111" stroke="#111" stroke-width="0.25" textLength="46.6" lengthAdjust="spacingAndGlyphs">11/17/2022</text>
<text transform="translate(672.76,489.4) rotate(-90)" font-size="12.3" fill="#111" stroke="#111" stroke-width="0.25" textLength="46.6" lengthAdjust="spacingAndGlyphs">01/18/2023</text>
<text transform="translate(686.27,489.4) rotate(-90)" font-size="12.3" fill="#111" stroke="#111" stroke-width="0.25" textLength="46.6" lengthAdjust="spacingAndGlyphs">03/16/2023</text>
<text transform="translate(699.78,489.4) rotate(-90)" font-size="12.3" fill="#111" stroke="#111" stroke-width="0.25" textLength="46.6" lengthAdjust="spacingAndGlyphs">05/12/2023</text>
<text transform="translate(713.29,489.4) rotate(-90)" font-size="12.3" fill="#111" stroke="#111" stroke-width="0.25" textLength="46.6" lengthAdjust="spacingAndGlyphs">07/12/2023</text>
<text transform="translate(726.80,489.4) rotate(-90)" font-size="12.3" fill="#111" stroke="#111" stroke-width="0.25" textLength="46.6" lengthAdjust="spacingAndGlyphs">09/07/2023</text>
<text transform="translate(740.31,489.4) rotate(-90)" font-size="12.3" fill="#111" stroke="#111" stroke-width="0.25" textLength="46.6" lengthAdjust="spacingAndGlyphs">11/02/2023</text>
<text transform="translate(753.82,489.4) rotate(-90)" font-size="12.3" fill="#111" stroke="#111" stroke-width="0.25" textLength="46.6" lengthAdjust="spacingAndGlyphs">01/02/2024</text>
<text transform="translate(767.33,489.4) rotate(-90)" font-size="12.3" fill="#111" stroke="#111" stroke-width="0.25" textLength="46.6" lengthAdjust="spacingAndGlyphs">02/29/2024</text>
<text transform="translate(780.84,489.4) rotate(-90)" font-size="12.3" fill="#111" stroke="#111" stroke-width="0.25" textLength="46.6" lengthAdjust="spacingAndGlyphs">04/26/2024</text>
<text transform="translate(794.35,489.4) rotate(-90)" font-size="12.3" fill="#111" stroke="#111" stroke-width="0.25" textLength="46.6" lengthAdjust="spacingAndGlyphs">06/25/2024</text>
<text transform="translate(807.86,489.4) rotate(-90)" font-size="12.3" fill="#111" stroke="#111" stroke-width="0.25" textLength="46.6" lengthAdjust="spacingAndGlyphs">08/21/2024</text>
<text transform="translate(821.37,489.4) rotate(-90)" font-size="12.3" fill="#111" stroke="#111" stroke-width="0.25" textLength="46.6" lengthAdjust="spacingAndGlyphs">10/17/2024</text>
<text transform="translate(834.88,489.4) rotate(-90)" font-size="12.3" fill="#111" stroke="#111" stroke-width="0.25" textLength="46.6" lengthAdjust="spacingAndGlyphs">12/13/2024</text>
<text transform="translate(848.39,489.4) rotate(-90)" font-size="12.3" fill="#111" stroke="#111" stroke-width="0.25" textLength="46.6" lengthAdjust="spacingAndGlyphs">02/13/2025</text>
<text transform="translate(861.90,489.4) rotate(-90)" font-size="12.3" fill="#111" stroke="#111" stroke-width="0.25" textLength="46.6" lengthAdjust="spacingAndGlyphs">04/11/2025</text>
<text transform="translate(875.41,489.4) rotate(-90)" font-size="12.3" fill="#111" stroke="#111" stroke-width="0.25" textLength="46.6" lengthAdjust="spacingAndGlyphs">06/10/2025</text>
<text transform="translate(888.92,489.4) rotate(-90)" font-size="12.3" fill="#111" stroke="#111" stroke-width="0.25" textLength="46.6" lengthAdjust="spacingAndGlyphs">08/07/2025</text>
<line x1="118.2" y1="504.6" x2="153.4" y2="504.6" stroke="#1b2a58" stroke-width="2.3"/>
<text x="155.6" y="507.6" font-size="10" fill="#111" stroke="#111" stroke-width="0.25" textLength="122" lengthAdjust="spacingAndGlyphs">Forward 12-Month P/E</text>
<line x1="311.2" y1="504.6" x2="343" y2="504.6" stroke="#84c225" stroke-width="2.2" stroke-dasharray="10.8 10.2"/>
<text x="349.6" y="507.6" font-size="10" fill="#111" stroke="#111" stroke-width="0.25" textLength="185.4" lengthAdjust="spacingAndGlyphs">5-Year Avg. Forward 12-Month P/E</text>
<line x1="571" y1="504.6" x2="603" y2="504.6" stroke="#1f447c" stroke-width="2.2" stroke-dasharray="10.8 10.2"/>
<text x="609" y="507.6" font-size="10" fill="#111" stroke="#111" stroke-width="0.25" textLength="194.3" lengthAdjust="spacingAndGlyphs">10-Year Avg. Forward 12-Month P/E</text>
<text x="222.1" y="24.6" font-size="16.4" font-weight="bold" fill="#000" stroke="#000" stroke-width="0.3" textLength="469.1" lengthAdjust="spacingAndGlyphs">S&amp;P 500 Forward 12-Month P/E Ratio: 10 Years</text>
<text x="374.1" y="44.4" font-size="16" fill="#000" stroke="#000" stroke-width="0.2" textLength="168.6" lengthAdjust="spacingAndGlyphs">(Source: FactSet)</text>
</svg>
</body></html>
